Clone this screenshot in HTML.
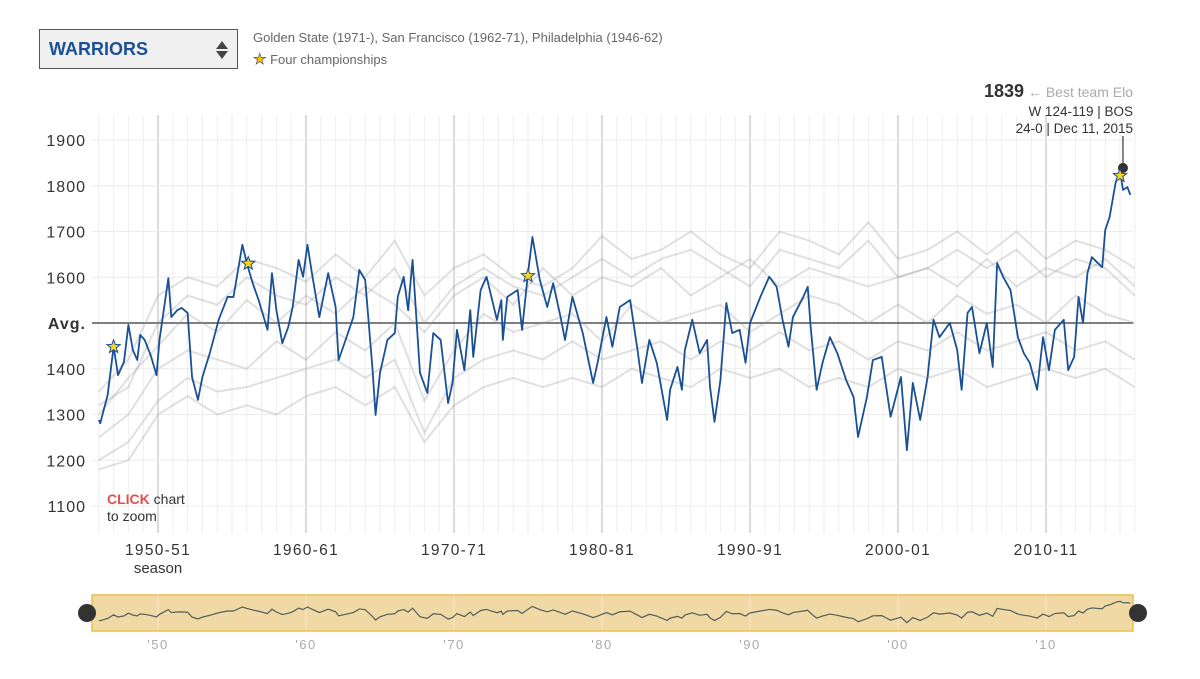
<!DOCTYPE html>
<html><head><meta charset="utf-8"><style>
body{margin:0;background:#fff;font-family:"Liberation Sans",sans-serif;}
#wrap{position:relative;width:1200px;height:679px;overflow:hidden;}
</style></head><body>
<div id="wrap">
<div style="position:absolute;left:39px;top:29px;width:197px;height:38px;background:#f0f0f0;border:1.5px solid #555;">
<span style="position:absolute;left:9px;top:9px;font-weight:bold;font-size:18px;color:#1a5096;">WARRIORS</span>
<svg style="position:absolute;left:175px;top:10px" width="14" height="20"><polygon points="7,1 13,9 1,9" fill="#444"/><polygon points="7,19 13,11 1,11" fill="#444"/></svg>
</div>
<div style="position:absolute;left:253px;top:30px;font-size:13px;color:#666;">Golden State (1971-), San Francisco (1962-71), Philadelphia (1946-62)</div>
<div style="position:absolute;left:253px;top:50px;font-size:13px;color:#666;"><span style="color:#f5c400;-webkit-text-stroke:0.6px #444;font-size:15px">★</span> Four championships</div>
<svg id="chart" width="1200" height="679" style="position:absolute;left:0;top:0"></svg>
</div>
<script>
const warYears=[1946.0,1946.1,1946.6,1947.0,1947.3,1947.7,1948.0,1948.3,1948.6,1948.8,1949.1,1949.5,1949.9,1950.1,1950.7,1950.9,1951.3,1951.6,1952.0,1952.3,1952.7,1953.0,1953.5,1954.1,1954.7,1955.1,1955.7,1956.0,1956.4,1956.8,1957.4,1957.7,1958.0,1958.4,1958.8,1959.1,1959.5,1959.8,1960.1,1960.4,1960.9,1961.5,1962.0,1962.2,1962.6,1963.2,1963.6,1964.0,1964.5,1964.7,1965.0,1965.5,1966.0,1966.2,1966.6,1966.9,1967.2,1967.7,1968.2,1968.6,1969.1,1969.6,1969.9,1970.2,1970.7,1971.1,1971.3,1971.8,1972.2,1972.9,1973.2,1973.3,1973.6,1974.3,1974.6,1975.0,1975.3,1975.8,1976.3,1976.7,1977.2,1977.5,1978.0,1978.7,1979.4,1979.7,1980.3,1980.7,1981.2,1981.9,1982.4,1982.7,1983.2,1983.7,1984.4,1984.6,1985.1,1985.4,1985.6,1986.1,1986.6,1987.1,1987.3,1987.6,1988.0,1988.4,1988.8,1989.3,1989.7,1990.0,1990.7,1991.3,1991.8,1992.2,1992.6,1992.9,1993.6,1993.9,1994.1,1994.5,1994.9,1995.4,1995.9,1996.5,1997.0,1997.3,1997.9,1998.3,1998.9,1999.5,2000.2,2000.6,2001.0,2001.5,2002.0,2002.4,2002.8,2003.5,2004.0,2004.3,2004.7,2005.0,2005.5,2006.0,2006.4,2006.7,2007.1,2007.6,2008.1,2008.5,2008.9,2009.4,2009.8,2010.2,2010.6,2011.2,2011.5,2011.9,2012.2,2012.5,2012.8,2013.1,2013.5,2013.8,2014.0,2014.3,2014.7,2015.0,2015.2,2015.5,2015.7];
const warElo=[1288,1281,1343,1448,1386,1415,1496,1441,1419,1474,1463,1430,1386,1463,1598,1513,1528,1533,1522,1382,1332,1382,1434,1507,1557,1557,1671,1631,1587,1550,1485,1609,1528,1456,1491,1535,1638,1601,1671,1609,1513,1609,1535,1419,1456,1513,1616,1594,1397,1299,1391,1463,1478,1557,1601,1528,1638,1391,1347,1478,1463,1325,1369,1485,1397,1528,1426,1572,1601,1507,1550,1463,1557,1572,1485,1609,1688,1594,1535,1587,1513,1463,1557,1478,1369,1413,1513,1448,1535,1550,1441,1369,1463,1413,1288,1354,1404,1354,1441,1507,1434,1463,1360,1284,1375,1544,1478,1485,1413,1500,1557,1601,1579,1507,1448,1513,1557,1579,1491,1354,1413,1469,1434,1375,1338,1251,1338,1419,1426,1295,1382,1222,1369,1288,1382,1507,1469,1500,1441,1354,1522,1535,1434,1500,1404,1631,1601,1572,1469,1434,1413,1354,1469,1397,1485,1507,1397,1426,1557,1500,1609,1644,1631,1622,1703,1732,1806,1834,1791,1797,1780];
const champYears=[1947.0,1956.1,1975.0,2015.0];
const champElo=[1448,1630,1603,1822];
const bestYear=2015.2, bestElo=1839;
const bgYears=[1946,1948,1950,1952,1954,1956,1958,1960,1962,1964,1966,1968,1970,1972,1974,1976,1978,1980,1982,1984,1986,1988,1990,1992,1994,1996,1998,2000,2002,2004,2006,2008,2010,2012,2014,2016];
const bgA=[1350,1420,1560,1600,1580,1640,1620,1590,1650,1600,1680,1560,1620,1650,1600,1580,1620,1690,1640,1660,1700,1650,1620,1700,1680,1650,1720,1640,1660,1700,1650,1700,1640,1680,1660,1620];
const bgB=[1300,1380,1450,1520,1480,1550,1500,1560,1520,1580,1540,1480,1560,1600,1540,1620,1560,1600,1580,1620,1560,1600,1640,1580,1620,1600,1580,1600,1620,1580,1640,1580,1620,1600,1640,1580];
const bgC=[1250,1300,1400,1440,1420,1400,1460,1420,1480,1440,1500,1330,1440,1520,1480,1500,1520,1460,1540,1500,1520,1540,1480,1520,1560,1540,1500,1540,1500,1560,1520,1540,1500,1560,1520,1500];
const bgD=[1200,1240,1330,1380,1350,1360,1380,1400,1420,1380,1420,1260,1380,1420,1440,1420,1460,1420,1440,1460,1420,1460,1440,1480,1440,1460,1420,1460,1440,1480,1440,1460,1480,1440,1460,1420];
const bgE=[1180,1200,1300,1340,1300,1320,1300,1340,1360,1320,1360,1240,1320,1360,1380,1360,1380,1360,1400,1380,1360,1400,1380,1400,1360,1380,1360,1400,1380,1400,1360,1380,1400,1380,1400,1360];
const bgF=[1320,1360,1500,1560,1540,1600,1560,1540,1600,1560,1620,1500,1580,1620,1580,1560,1600,1640,1600,1640,1660,1620,1580,1660,1640,1620,1680,1600,1620,1660,1620,1660,1600,1640,1620,1560];
const yTicks=[1100,1200,1300,1400,1500,1600,1700,1800,1900];
const xTickYears=[1950,1960,1970,1980,1990,2000,2010];
const xTickLabels=['1950-51','1960-61','1970-71','1980-81','1990-91','2000-01','2010-11'];
const brushLabels=["'50","'60","'70","'80","'90","'00","'10"];

const NS='http://www.w3.org/2000/svg', svg=document.getElementById('chart');
const X0=98.8, PX=14.8;
const x=t=>X0+(t-1946)*PX;
const y=v=>323-(v-1500)*0.4575;
const by=v=>613-(v-1500)*0.035;
function el(tag,a,parent){const e=document.createElementNS(NS,tag);for(const k in a)e.setAttribute(k,a[k]);(parent||svg).appendChild(e);return e;}

for(let s=1946;s<=2016;s++){const d=(s%10===0);
 const g=el('line',{x1:x(s),x2:x(s),y1:115,y2:533,stroke:d?'#c4c4c4':'#eeeeee','stroke-width':d?1.2:1});
 
 }
yTicks.forEach(v=>{
 const g=el('line',{x1:92,x2:1133,y1:y(v),y2:y(v),stroke:v===1500?'#555':'#ececec','stroke-width':v===1500?1.5:1});
 
 
 const t=el('text',{x:86,y:y(v)+6,'text-anchor':'end','font-size':16,fill:'#333','letter-spacing':'1','font-weight':v===1500?'bold':'normal'});
 t.textContent=v===1500?'Avg.':String(v);
 
 
});
[bgA,bgB,bgC,bgD,bgE,bgF].forEach(arr=>{
 const p=el('polyline',{points:arr.map((v,i)=>x(bgYears[i])+','+y(v)).join(' '),fill:'none',stroke:'#999','stroke-opacity':0.3,'stroke-width':2});
 
 
});
const wl=el('polyline',{points:warElo.map((v,i)=>x(warYears[i])+','+y(v)).join(' '),fill:'none',stroke:'#1a5096','stroke-width':1.8,'stroke-linejoin':'round'});


const bl=el('line',{x1:x(bestYear),x2:x(bestYear),y1:136,y2:y(bestElo),stroke:'#333','stroke-width':1.2});


const bd=el('circle',{cx:x(bestYear),cy:y(bestElo),r:5,fill:'#333'});


champYears.forEach((t,i)=>{
 const cx=x(t),cy=y(champElo[i]);let pts=[];
 for(let k=0;k<10;k++){const r=k%2?3:7,a=-Math.PI/2+k*Math.PI/5;pts.push((cx+r*Math.cos(a))+','+(cy+r*Math.sin(a)));}
 const s=el('polygon',{points:pts.join(' '),fill:'#f5d320',stroke:'#1a5096','stroke-width':1});
 
 
});
xTickYears.forEach((yr,i)=>{
 const t=el('text',{x:x(yr),y:555,'text-anchor':'middle','font-size':15.5,fill:'#333','letter-spacing':'1.3'});
 t.textContent=xTickLabels[i];
 
 
 const b=el('text',{x:x(yr),y:649,'text-anchor':'middle','font-size':13,fill:'#aaa','letter-spacing':'1.5'});
 b.textContent=brushLabels[i];
 
 
});
const se=el('text',{x:x(1950),y:573,'text-anchor':'middle','font-size':15,fill:'#333'});se.textContent='season';


const a1=el('text',{x:1133,y:97,'text-anchor':'end','font-size':14,fill:'#aaa'});
a1.innerHTML='<tspan font-weight="bold" font-size="18" fill="#333">1839</tspan> ← Best team Elo';


['W 124-119 | BOS','24-0 | Dec 11, 2015'].forEach((s,i)=>{const t=el('text',{x:1133,y:116+i*17,'text-anchor':'end','font-size':13.5,fill:'#333'});t.textContent=s;
 
 });
const c1=el('text',{x:107,y:504,'font-size':14,fill:'#333'});c1.innerHTML='<tspan font-weight="bold" fill="#e05050">CLICK</tspan> chart';


const c2=el('text',{x:107,y:521,'font-size':14,fill:'#333'});c2.textContent='to zoom';


const br=el('rect',{x:92,y:595,width:1041,height:36,fill:'#f1d9a6',stroke:'#e8c24a','stroke-width':1.5});


xTickYears.forEach(yr=>{const g=el('line',{x1:x(yr),x2:x(yr),y1:596,y2:630,stroke:'#f7e7c5'});
 
 });
const ml=el('polyline',{points:warElo.map((v,i)=>x(warYears[i])+','+by(v)).join(' '),fill:'none',stroke:'#4f5f5a','stroke-width':1.2});


[87,1138].forEach((cx,i)=>{const h=el('circle',{cx:cx,cy:613,r:9,fill:'#333'});
 
 });
</script>
</body></html>
